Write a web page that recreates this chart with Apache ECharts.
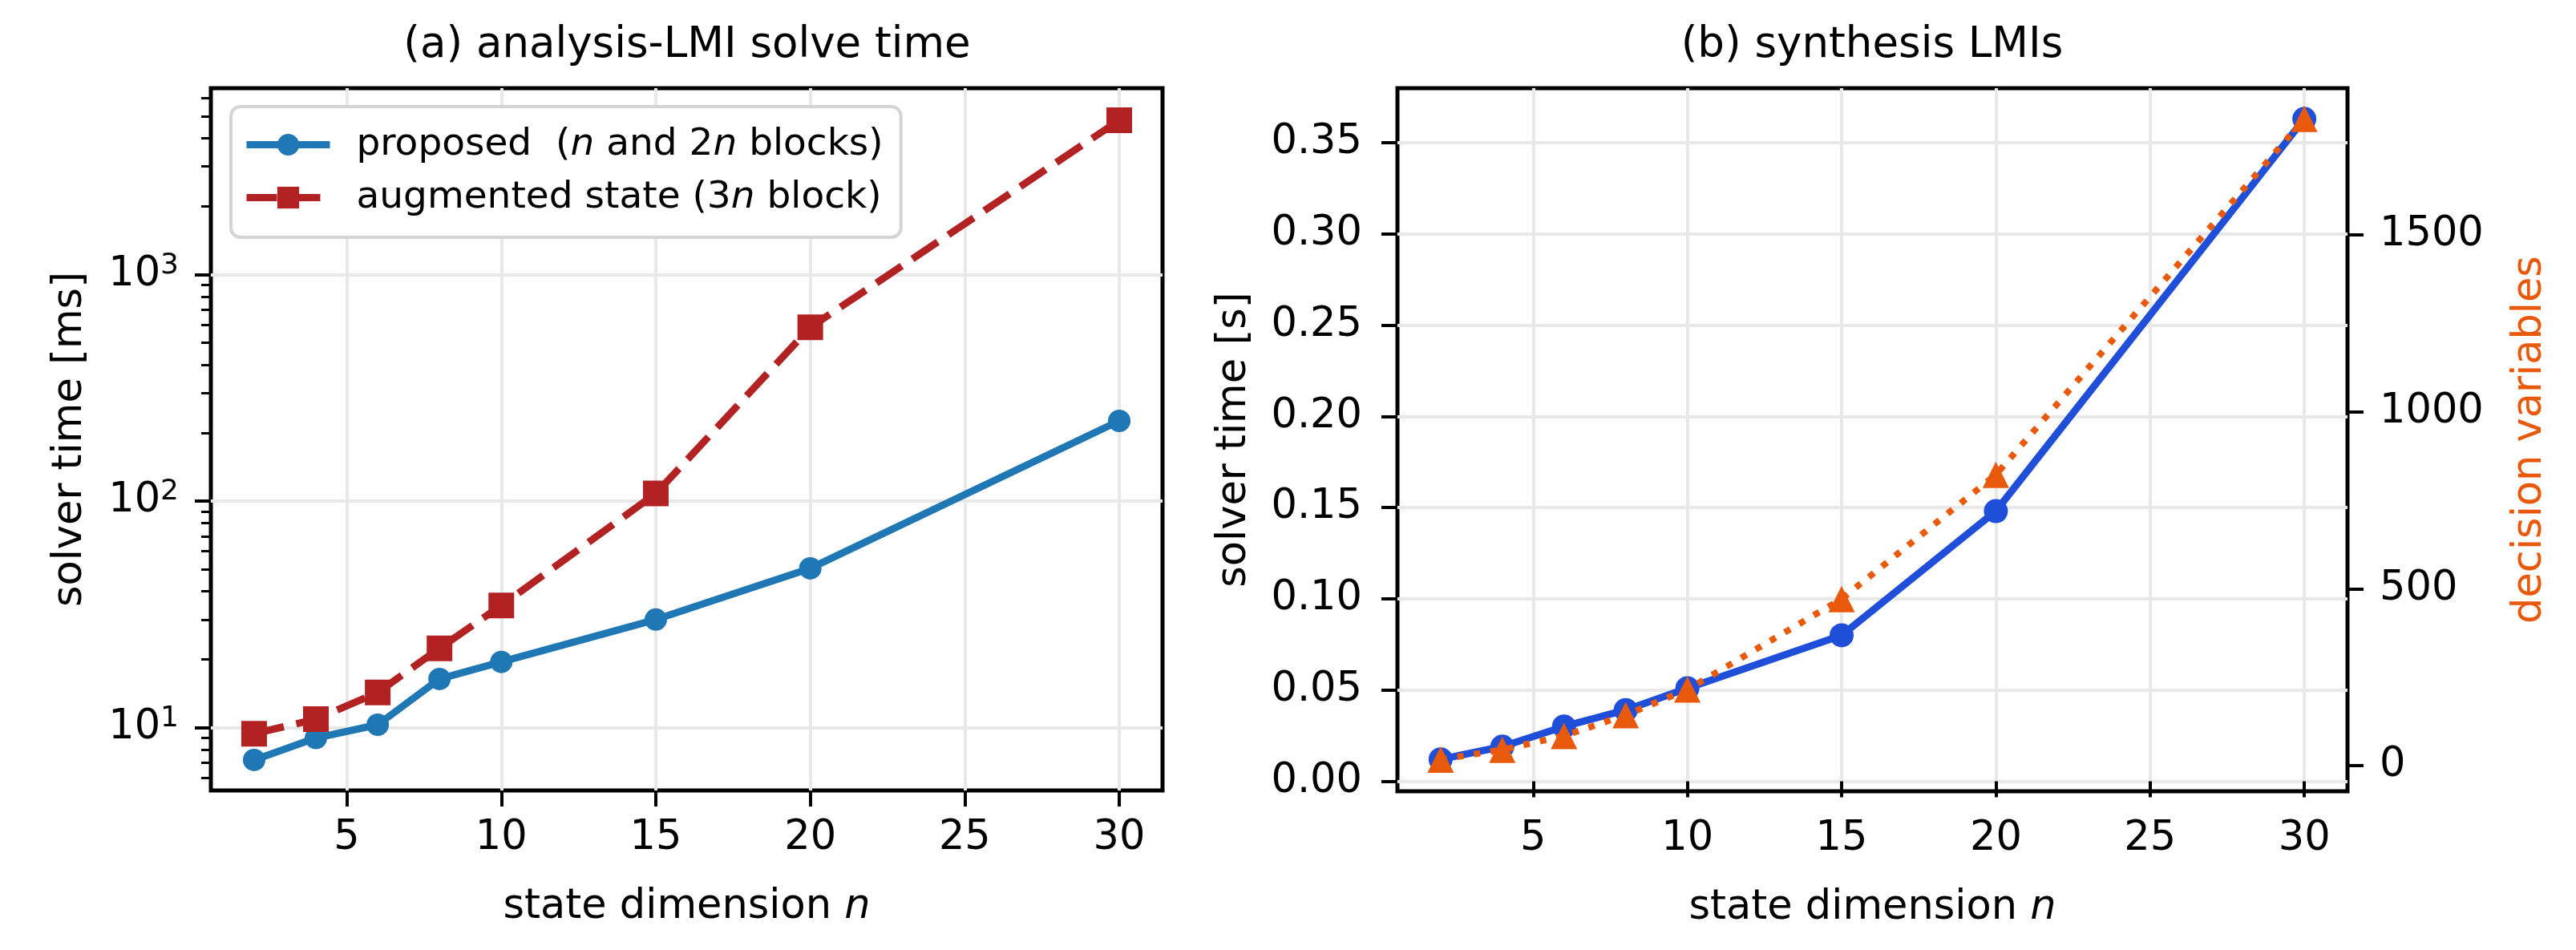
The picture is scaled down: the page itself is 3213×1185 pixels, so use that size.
<!DOCTYPE html>
<html>
<head>
<meta charset="utf-8">
<script src="https://cdn.jsdelivr.net/npm/echarts@6/dist/echarts.min.js"></script>
<style>
  html, body { margin: 0; padding: 0; background: #fff; }
  #main { width: 3213px; height: 1185px; }
</style>
</head>
<body>
<div id="main"></div>
<script>
// state dimension n (both panels)
var dims = [2, 4, 6, 8, 10, 15, 20, 30];

// (a) analysis-LMI solve time [ms]
var proposedMs  = [7.2, 9.0, 10.3, 16.4, 19.5, 30, 50.5, 226];
var augmentedMs = [9.4, 10.9, 14.3, 22.4, 34.6, 108, 585, 4800];

// (b) synthesis LMIs
var synthTimeS   = [0.012, 0.019, 0.030, 0.039, 0.051, 0.080, 0.148, 0.363];
var decisionVars = [17, 45, 84, 143, 215, 471, 822, 1828];

// tick labels
var xTicks      = [5, 10, 15, 20, 25, 30];
var logTicks    = [10, 100, 1000];
var logMinor    = [6, 7, 8, 9, 20, 30, 40, 50, 60, 70, 80, 90,
                   200, 300, 400, 500, 600, 700, 800, 900,
                   2000, 3000, 4000, 5000, 6000];
var secTicks    = [0, 0.05, 0.10, 0.15, 0.20, 0.25, 0.30, 0.35];
var varTicks    = [0, 500, 1000, 1500];

var FONT = 'DejaVu Sans';
var BLUE_A = '#1f77b4', RED_A = '#b22222';
var BLUE_B = '#1f4fd8', ORANGE_B = '#e8590c';

function pairs(xs, ys) {
    return xs.map(function (x, i) { return [x, ys[i]]; });
}

var myChart = echarts.init(document.getElementById('main'));

var tickStyle = { show: true, length: 20, lineStyle: { color: '#000', width: 4 } };
var gridLine  = { show: true, lineStyle: { color: '#e8e8e8', width: 4 } };
var labelBase = { color: '#000', fontFamily: FONT, fontSize: 51 };

function xAxisFor(gi) {
    return {
        gridIndex: gi, type: 'value', min: 0.6, max: 31.4,
        name: 'state dimension {i|n}', nameLocation: 'middle', nameGap: 120,
        nameTextStyle: {
            color: '#000', fontFamily: FONT, fontSize: 51,
            rich: { i: { fontFamily: FONT, fontSize: 51, fontStyle: 'italic', color: '#000' } }
        },
        axisLine: { show: false },
        axisTick: Object.assign({ customValues: xTicks }, tickStyle),
        axisLabel: Object.assign({ customValues: xTicks, margin: 34 }, labelBase),
        splitLine: gridLine
    };
}

var option = {
    backgroundColor: '#fff',
    animation: false,
    title: [
        {
            text: '(a) analysis-LMI solve time', left: 857, top: 31, padding: 0,
            textAlign: 'center',
            textStyle: { color: '#000', fontFamily: FONT, fontSize: 53, fontWeight: 'normal' }
        },
        {
            text: '(b) synthesis LMIs', left: 2335, top: 31, padding: 0,
            textAlign: 'center',
            textStyle: { color: '#000', fontFamily: FONT, fontSize: 53, fontWeight: 'normal' }
        }
    ],
    legend: {
        data: [
            { name: 'proposed', lineStyle: { width: 9, color: BLUE_A, type: 'solid' } },
            { name: 'augmented', lineStyle: { width: 9, color: RED_A, type: [38, 16] } }
        ],
        orient: 'vertical',
        left: 288, top: 133,
        padding: [24, 22, 26, 15],
        itemGap: 19,
        itemWidth: 104, itemHeight: 34,
        backgroundColor: '#fff',
        borderColor: '#d4d4d4', borderWidth: 4, borderRadius: 12,
        formatter: function (name) {
            return name === 'proposed'
                ? 'proposed  ({i|n} and 2{i|n} blocks)'
                : 'augmented state (3{i|n} block)';
        },
        textStyle: {
            color: '#000', fontFamily: FONT, fontSize: 47, padding: [0, 0, 0, 28],
            rich: { i: { fontFamily: FONT, fontSize: 47, fontStyle: 'italic', color: '#000' } }
        }
    },
    grid: [
        { left: 263, top: 110, width: 1187, height: 876, show: true,
          borderColor: '#000', borderWidth: 5, backgroundColor: '#fff' },
        { left: 1743, top: 110, width: 1185, height: 877, show: true,
          borderColor: '#000', borderWidth: 5, backgroundColor: '#fff' }
    ],
    xAxis: [xAxisFor(0), xAxisFor(1)],
    yAxis: [
        {   // (a) log axis, major ticks
            gridIndex: 0, type: 'log', logBase: 10, min: 5.28, max: 6650, position: 'left',
            name: 'solver time [ms]', nameLocation: 'middle', nameGap: 150, nameRotate: 90,
            nameTextStyle: { color: '#000', fontFamily: FONT, fontSize: 51 },
            axisLine: { show: false },
            axisTick: Object.assign({ customValues: logTicks }, tickStyle),
            axisLabel: {
                customValues: logTicks, margin: 40,
                formatter: function (v) {
                    return '{b|10}{s|' + Math.round(Math.log10(v)) + '}';
                },
                rich: {
                    b: { color: '#000', fontFamily: FONT, fontSize: 51 },
                    s: { color: '#000', fontFamily: FONT, fontSize: 36, verticalAlign: 'top', padding: [0, 0, 22, 0] }
                }
            },
            splitLine: gridLine
        },
        {   // (a) log axis, minor ticks only
            gridIndex: 0, type: 'log', logBase: 10, min: 5.28, max: 6650,
            position: 'left', offset: 0,
            axisLine: { show: false },
            axisTick: { show: true, customValues: logMinor, length: 12, lineStyle: { color: '#000', width: 3 } },
            axisLabel: { show: false },
            splitLine: { show: false }
        },
        {   // (b) solver time [s]
            gridIndex: 1, type: 'value', min: -0.0055, max: 0.3798, position: 'left',
            name: 'solver time [s]', nameLocation: 'middle', nameGap: 178, nameRotate: 90,
            nameTextStyle: { color: '#000', fontFamily: FONT, fontSize: 51 },
            axisLine: { show: false },
            axisTick: Object.assign({ customValues: secTicks }, tickStyle),
            axisLabel: Object.assign({
                customValues: secTicks, margin: 44,
                formatter: function (v) { return v.toFixed(2); }
            }, labelBase),
            splitLine: gridLine
        },
        {   // (b) decision variables
            gridIndex: 1, type: 'value', position: 'right', min: -72.5, max: 1914.6,
            name: 'decision variables', nameLocation: 'middle', nameGap: 202, nameRotate: 90,
            nameTextStyle: { color: ORANGE_B, fontFamily: FONT, fontSize: 51 },
            axisLine: { show: false },
            axisTick: Object.assign({ customValues: varTicks }, tickStyle),
            axisLabel: Object.assign({
                customValues: varTicks, margin: 40,
                formatter: function (v) { return String(v); }
            }, labelBase),
            splitLine: { show: false }
        }
    ],
    series: [
        {
            name: 'proposed', type: 'line', xAxisIndex: 0, yAxisIndex: 0,
            data: pairs(dims, proposedMs),
            symbol: 'circle', symbolSize: 28,
            lineStyle: { color: BLUE_A, width: 9 },
            itemStyle: { color: BLUE_A }, z: 3
        },
        {
            name: 'augmented', type: 'line', xAxisIndex: 0, yAxisIndex: 0,
            data: pairs(dims, augmentedMs),
            symbol: 'rect', symbolSize: 32,
            lineStyle: { color: RED_A, width: 9, type: [38, 16] },
            itemStyle: { color: RED_A }, z: 4
        },
        {
            name: 'solver time', type: 'line', xAxisIndex: 1, yAxisIndex: 2,
            data: pairs(dims, synthTimeS),
            symbol: 'circle', symbolSize: 30,
            lineStyle: { color: BLUE_B, width: 9 },
            itemStyle: { color: BLUE_B }, z: 3
        },
        {
            name: 'decision variables', type: 'line', xAxisIndex: 1, yAxisIndex: 3,
            data: pairs(dims, decisionVars),
            symbol: 'triangle', symbolSize: 33,
            lineStyle: { color: ORANGE_B, width: 8, type: [8, 13] },
            itemStyle: { color: ORANGE_B }, z: 4
        }
    ]
};

myChart.setOption(option);
</script>
</body>
</html>
